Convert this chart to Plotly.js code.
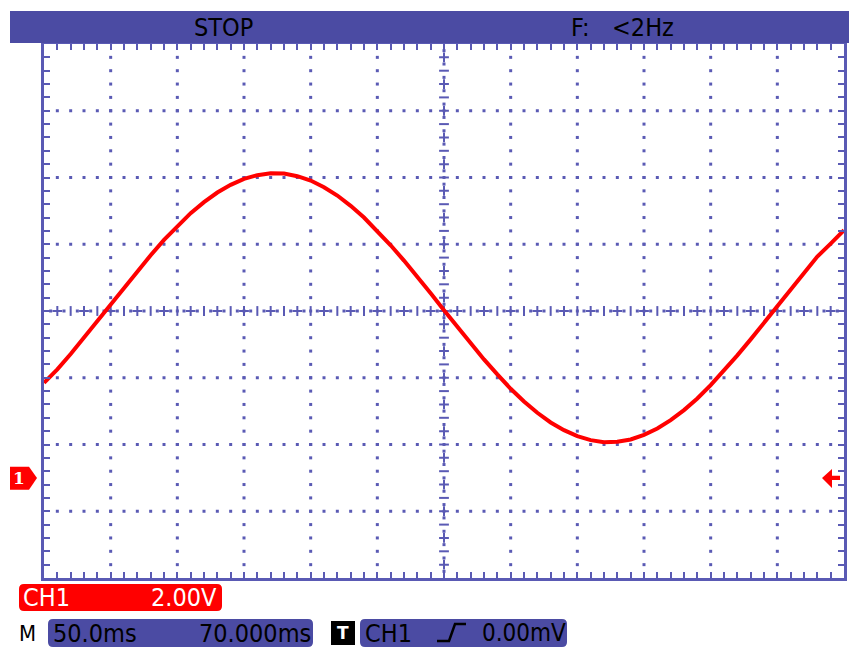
<!DOCTYPE html>
<html><head><meta charset="utf-8">
<script src="https://cdn.plot.ly/plotly-3.0.1.min.js"></script>
<style>html,body{margin:0;padding:0;background:#fff;}#chart{width:849px;height:648px;}</style>
</head><body><div id="chart"></div>
<script>
// ---- data (time in ms relative to screen centre, CH1 in volts relative to screen centre) ----
const timeMs = [-300,-290,-280,-270,-260,-250,-240,-230,-220,-210,-200,-190,-180,-170,-160,-150,-140,-130,-120,-110,
  -100,-90,-80,-70,-60,-50,-40,-30,-20,-10,0,10,20,30,40,50,60,70,80,90,100,110,120,130,140,150,160,170,180,190,
  200,210,220,230,240,250,260,270,280,290,300];
const ch1Volts = [-2.15,-1.75,-1.29,-0.80,-0.30,0.20,0.70,1.20,1.67,2.13,2.55,2.93,3.26,3.55,3.78,3.96,4.07,4.13,4.12,4.04,
  3.91,3.71,3.46,3.15,2.80,2.40,1.97,1.51,1.03,0.53,0.02,-0.48,-0.97,-1.45,-1.90,-2.33,-2.71,-3.05,-3.34,-3.57,
  -3.75,-3.87,-3.93,-3.92,-3.85,-3.71,-3.52,-3.27,-2.97,-2.62,-2.22,-1.79,-1.33,-0.85,-0.35,0.15,0.65,1.15,1.63,2.02,2.42];
const groundLevelV = -5.0;
const triggerLevelV = -5.0;
const statusText = "STOP";
const freqLabel = "F:";
const freqValue = "&lt;2Hz";
const chName = "CH1";
const chScale = "2.00V";
const modeLabel = "M";
const timebase = "50.0ms";
const hPosition = "70.000ms";
const trigLabel = "T";
const trigSource = "CH1";
const trigLevel = "0.00mV";

// ---- layout helpers ----
const L = 44, R = 844, T = 44, B = 578;
const X = px => (px - L) / (R - L);
const Y = py => (B - py) / (B - T);
const Yv = v => (v + 8) / 16;
const VPP = 16 / (B - T);
const BLUE = '#4b4ba3', LINE = '#5a5ab4', RED = '#ff0000';
const FONT = "'DejaVu Sans Condensed', 'Liberation Sans Narrow', 'DejaVu Sans', sans-serif";

function rrect(x0, y0, x1, y1, r) {
  const p = (x, y) => X(x).toFixed(5) + ',' + Y(y).toFixed(5);
  return `M${p(x0 + r, y0)} L${p(x1 - r, y0)} Q${p(x1, y0)} ${p(x1, y0 + r)} L${p(x1, y1 - r)} Q${p(x1, y1)} ${p(x1 - r, y1)} L${p(x0 + r, y1)} Q${p(x0, y1)} ${p(x0, y1 - r)} L${p(x0, y0 + r)} Q${p(x0, y0)} ${p(x0 + r, y0)} Z`;
}
function poly(pts) {
  return 'M' + pts.map(q => X(q[0]).toFixed(5) + ',' + q[1].toFixed(5)).join(' L') + ' Z';
}

// ---- graticule ----
const dotX = [], dotY = [];
for (let k = -5; k <= 5; k++) { if (k === 0) continue; for (let j = -19; j <= 19; j++) { dotX.push(50 * k); dotY.push(0.4 * j); } }
for (let m = -3; m <= 3; m++) { if (m === 0) continue; for (let i = -29; i <= 29; i++) { dotX.push(10 * i); dotY.push(2 * m); } }
const cdX = [], cdY = [], crX = [], crY = [], vtX = [], vtY = [], htX = [], htY = [];
for (let i = -30; i < 30; i++) { cdX.push(10 * i + 5); cdY.push(0); }
for (let j = -20; j < 20; j++) { cdX.push(0); cdY.push(0.4 * j + 0.2); }
for (let i = -29; i <= 29; i++) {
  if (i === 0) continue;
  if (Math.abs(i) % 2 === 1) { crX.push(10 * i); crY.push(0); } else { vtX.push(10 * i); vtY.push(0); }
}
for (let j = -19; j <= 19; j++) {
  if (j === 0) continue;
  if (Math.abs(j) % 2 === 1) { crX.push(0); crY.push(0.4 * j); } else { htX.push(0); htY.push(0.4 * j); }
}
crX.push(0); crY.push(0);

const traces = [
  {x: dotX, y: dotY, mode: 'markers', type: 'scatter', hoverinfo: 'skip', marker: {symbol: 'square', size: 3, color: LINE}},
  {x: cdX, y: cdY, mode: 'markers', type: 'scatter', hoverinfo: 'skip', marker: {symbol: 'square', size: 3, color: LINE}},
  {x: crX, y: crY, mode: 'markers', type: 'scatter', hoverinfo: 'skip', marker: {symbol: 'cross-thin', size: 7, line: {width: 2, color: LINE}}},
  {x: vtX, y: vtY, mode: 'markers', type: 'scatter', hoverinfo: 'skip', marker: {symbol: 'line-ns', size: 7, line: {width: 2, color: LINE}}},
  {x: htX, y: htY, mode: 'markers', type: 'scatter', hoverinfo: 'skip', marker: {symbol: 'line-ew', size: 7, line: {width: 2, color: LINE}}},
  {x: timeMs, y: ch1Volts, mode: 'lines', type: 'scatter', hoverinfo: 'skip', line: {color: RED, width: 4}}
];

const shapes = [
  {type: 'rect', xref: 'paper', yref: 'paper', x0: X(10), x1: X(849), y0: Y(43), y1: Y(11), fillcolor: BLUE, line: {width: 0}},
  {type: 'path', xref: 'paper', yref: 'paper', path: rrect(19, 584, 222, 611, 5), fillcolor: RED, line: {width: 0}},
  {type: 'path', xref: 'paper', yref: 'paper', path: rrect(48, 619, 313, 647, 5), fillcolor: BLUE, line: {width: 0}},
  {type: 'rect', xref: 'paper', yref: 'paper', x0: X(331), x1: X(355), y0: Y(645), y1: Y(621), fillcolor: '#000000', line: {width: 0}},
  {type: 'path', xref: 'paper', yref: 'paper', path: rrect(360, 619, 567, 647, 5), fillcolor: BLUE, line: {width: 0}},
  {type: 'path', xref: 'paper', yref: 'paper',
   path: `M${X(437)},${Y(641)} L${X(449)},${Y(641)} L${X(455)},${Y(624)} L${X(466)},${Y(624)}`,
   line: {color: '#000000', width: 2.5}},
  // ground marker "1"
  {type: 'path', xref: 'paper', yref: 'paper', fillcolor: RED, line: {width: 0},
   path: poly([[10, Yv(groundLevelV + 11 * VPP)], [29, Yv(groundLevelV + 11 * VPP)], [37, Yv(groundLevelV)],
               [29, Yv(groundLevelV - 12 * VPP)], [10, Yv(groundLevelV - 12 * VPP)]])},
  // trigger level marker
  {type: 'path', xref: 'paper', yref: 'paper', fillcolor: RED, line: {width: 0},
   path: poly([[822, Yv(triggerLevelV)], [832, Yv(triggerLevelV + 9 * VPP)], [832, Yv(triggerLevelV + 2 * VPP)],
               [840, Yv(triggerLevelV + 2 * VPP)], [840, Yv(triggerLevelV - 2 * VPP)], [832, Yv(triggerLevelV - 2 * VPP)],
               [832, Yv(triggerLevelV - 10 * VPP)]])}
];

function txt(text, px, py, size, color, extra) {
  return Object.assign({text: text, xref: 'paper', yref: 'paper', x: X(px), y: Y(py), xanchor: 'left', yanchor: 'middle',
    showarrow: false, borderpad: 0, font: {family: FONT, size: size, color: color}}, extra || {});
}
const annotations = [
  txt(statusText, 193, 27, 25, '#000'),
  txt(freqLabel, 570, 27, 25, '#000'),
  txt(freqValue, 611, 27, 25, '#000'),
  txt(chName, 22, 597, 25, '#fff'),
  txt(chScale, 150, 597, 25, '#fff'),
  txt(modeLabel, 18, 633, 22, '#000'),
  txt(timebase, 52, 633, 25, '#000'),
  txt(hPosition, 198, 633, 25, '#000'),
  txt(trigLabel, 343, 633, 17, '#fff', {xanchor: 'center', font: {family: "'DejaVu Sans', sans-serif", size: 17, color: '#fff', weight: 'bold'}}),
  txt(trigSource, 364, 633, 25, '#000'),
  txt(trigLevel, 481, 633, 24, '#000'),
  {text: '1', xref: 'paper', yref: 'paper', x: X(19), y: Yv(groundLevelV), xanchor: 'center', yanchor: 'middle', showarrow: false,
   font: {family: "'DejaVu Serif', serif", size: 17, color: '#fff', weight: 'bold'}}
];

const axisCommon = {showgrid: false, zeroline: false, showticklabels: false, showline: true, linecolor: LINE, linewidth: 3,
  mirror: 'ticks', ticks: 'inside', ticklen: 6, tickwidth: 2, tickcolor: LINE, fixedrange: true};

const layout = {
  width: 849, height: 648, paper_bgcolor: '#ffffff', plot_bgcolor: '#ffffff',
  margin: {l: L, r: 849 - R, t: T, b: 648 - B, pad: 0},
  showlegend: false, hovermode: false,
  xaxis: Object.assign({range: [-300, 300], tick0: 0, dtick: 10}, axisCommon),
  yaxis: Object.assign({range: [-8, 8], tick0: 0, dtick: 0.4}, axisCommon),
  shapes: shapes, annotations: annotations
};
Plotly.newPlot('chart', traces, layout, {staticPlot: true, displayModeBar: false});
</script></body></html>
